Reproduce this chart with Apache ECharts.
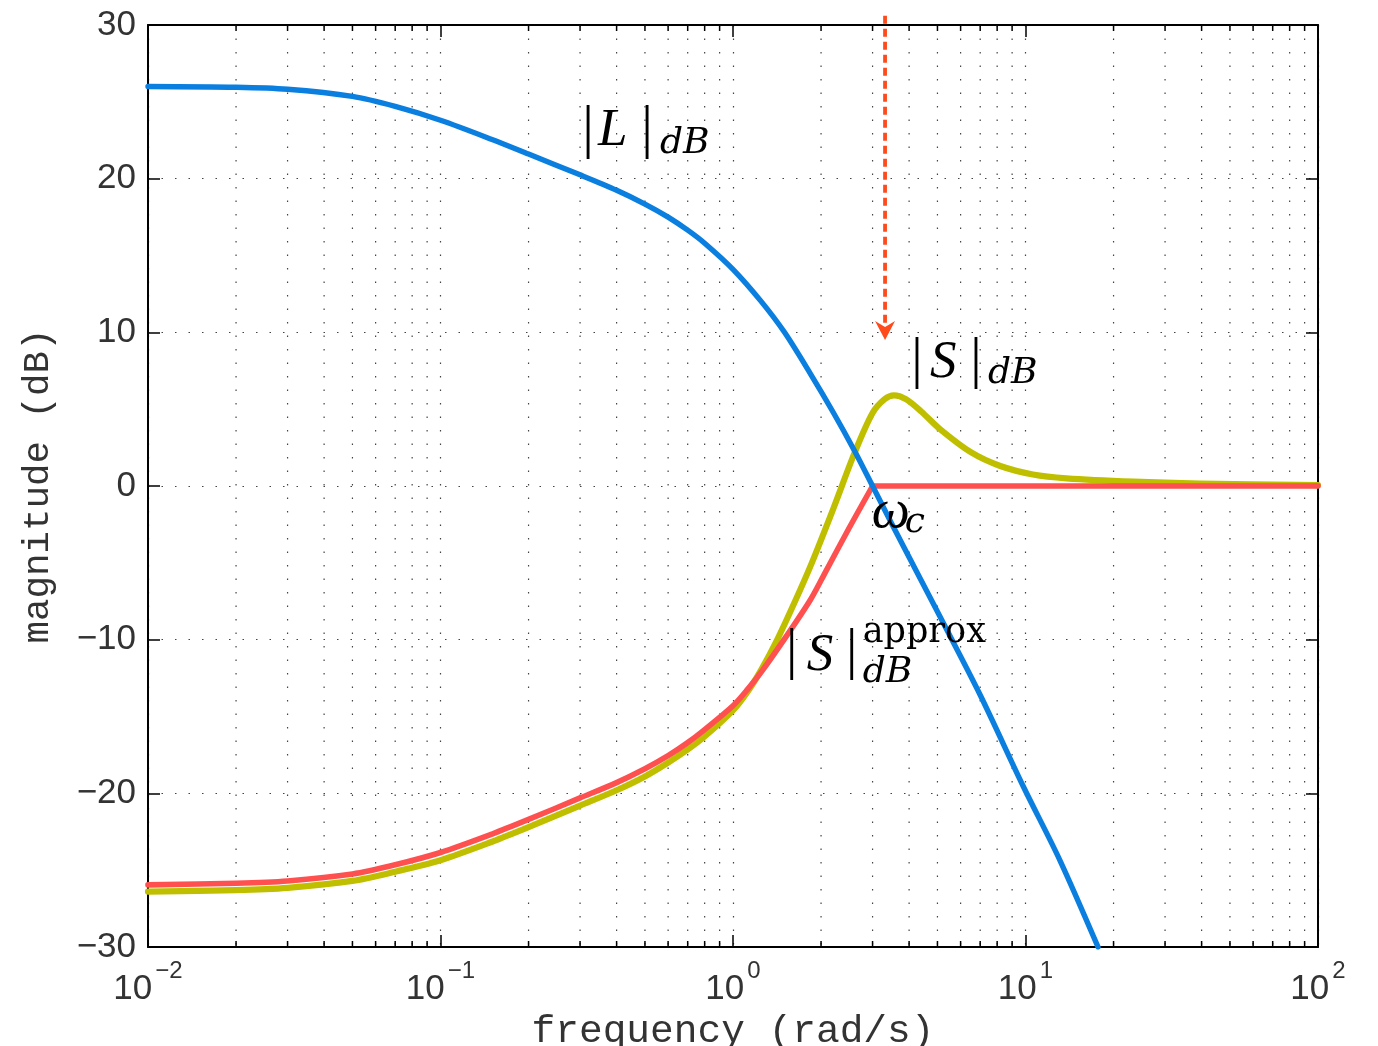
<!DOCTYPE html>
<html><head><meta charset="utf-8">
<script src="https://cdn.jsdelivr.net/npm/echarts@6/dist/echarts.min.js"></script>
<style>html,body{margin:0;padding:0;background:#fff}#c{width:1378px;height:1046px}</style>
</head><body><div id="c"></div>
<script>
// ---- axis ticks ----
const xDecades = [0.01, 0.1, 1, 10, 100];
const minorMult = [2, 3, 4, 5, 6, 7, 8, 9];
const yTicks = [-30, -20, -10, 0, 10, 20, 30];

// ---- series values [frequency rad/s, magnitude dB] ----
const loopL = [[0.01,26.0],[0.02,25.95],[0.03,25.82],[0.05,25.35],[0.07,24.7],[0.1,23.8],[0.15,22.55],[0.2,21.6],[0.3,20.25],[0.4,19.25],[0.5,18.35],[0.6,17.5],[0.7,16.65],[0.8,15.8],[1.0,14.1],[1.25,12.0],[1.5,10.0],[1.84,7.3],[2.2,4.8],[2.61,2.25],[3.0,0],[3.5,-2.5],[4.25,-5.6],[5.1,-8.5],[7.0,-13.6],[9.84,-19.57],[13.1,-24.34],[17.7,-30]];
const sensS = [[0.01,-26.4],[0.02,-26.3],[0.03,-26.15],[0.05,-25.7],[0.07,-25.1],[0.1,-24.35],[0.15,-23.15],[0.2,-22.2],[0.3,-20.8],[0.4,-19.8],[0.5,-18.9],[0.6,-18.0],[0.7,-17.15],[0.8,-16.3],[1.0,-14.6],[1.125,-13.35],[1.25,-11.95],[1.4,-10.2],[1.63,-7.5],[1.86,-5.0],[2.2,-1.5],[2.61,2.2],[3.0,4.75],[3.3,5.65],[3.55,5.9],[3.9,5.65],[4.4,4.85],[5.1,3.7],[6.5,2.2],[8.2,1.3],[10.6,0.75],[13.8,0.5],[23.4,0.28],[39.5,0.16],[100,0.06]];
const sensApproxLow = [[0.01,-25.96],[0.02,-25.85],[0.03,-25.7],[0.05,-25.25],[0.07,-24.65],[0.1,-23.85],[0.15,-22.65],[0.2,-21.7],[0.3,-20.3],[0.4,-19.3],[0.5,-18.4],[0.6,-17.55],[0.7,-16.7],[0.8,-15.85],[1.0,-14.3],[1.125,-13.2],[1.25,-12.1],[1.5,-9.95],[1.84,-7.4],[2.07,-5.6],[2.5,-2.7],[3.0,0]];
const sensApproxHigh = [[3.0,0],[100,0]];

// ---- annotation anchors (data coords) ----
const arrowOmega = 3.31, arrowFromDB = 30.6, arrowToDB = 9.5;
const anchorL = [0.3455, 22.19];
const anchorS = [4.715, 7.11];
const anchorSa = [1.786, -11.97];
const anchorWc = [2.98, -2.67];

const minorX = [];
for (let d = 0; d < xDecades.length - 1; d++) for (const m of minorMult) minorX.push([xDecades[d] * m, 0]);

const chart = echarts.init(document.getElementById('c'), null, {renderer: 'canvas'});
const tickFont = 'Liberation Sans';
const tickColor = '#333';
const axisCommon = {
  axisLine: {show: true, onZero: false, lineStyle: {color: '#000', width: 2}},
  axisTick: {show: true, inside: true, length: 12, lineStyle: {color: '#000', width: 1.5}}
};
function expLabel(v) {
  const e = Math.round(Math.log10(v));
  return '{b|10}{s|' + (e < 0 ? '\u2212' + (-e) : String(e)) + '}';
}
const option = {
  animation: false,
  backgroundColor: '#fff',
  grid: {left: 148, right: 60, top: 25, bottom: 99, containLabel: false, outerBoundsMode: 'none'},
  xAxis: [
    Object.assign({type: 'log', logBase: 10, min: xDecades[0], max: xDecades[xDecades.length-1], splitNumber: 4, position: 'bottom',
      name: 'frequency (rad/s)', nameLocation: 'middle', nameGap: 58,
      nameTextStyle: {fontFamily: 'Liberation Mono', fontSize: 39.5, color: '#333'},
      axisLabel: {show: true, margin: 12, formatter: expLabel, showMinLabel: true, showMaxLabel: true, hideOverlap: false,
        rich: {b: {fontFamily: tickFont, fontSize: 35, lineHeight: 60, color: tickColor},
               s: {fontFamily: tickFont, fontSize: 24, lineHeight: 26, verticalAlign: 'top', color: tickColor, padding: [0,0,0,3]}}},
      splitLine: {show: true, lineStyle: {color: '#444', width: 1.2, type: [1.5, 12]}}}, axisCommon),
    Object.assign({type: 'log', logBase: 10, min: xDecades[0], max: xDecades[xDecades.length-1], splitNumber: 4, position: 'top',
      axisLabel: {show: false}, splitLine: {show: false}}, axisCommon)
  ],
  yAxis: [
    Object.assign({type: 'value', min: yTicks[0], max: yTicks[yTicks.length-1], interval: 10, position: 'left',
      name: 'magnitude (dB)', nameLocation: 'middle', nameGap: 91,
      nameTextStyle: {fontFamily: 'Liberation Mono', fontSize: 37.5, color: '#333'},
      axisLabel: {show: true, margin: 12, fontFamily: tickFont, fontSize: 35, color: tickColor,
        formatter: v => (v < 0 ? '\u2212' + (-v) : String(v)), showMinLabel: true, showMaxLabel: true},
      splitLine: {show: true, lineStyle: {color: '#444', width: 1.2, type: [1.5, 12]}}}, axisCommon),
    Object.assign({type: 'value', min: yTicks[0], max: yTicks[yTicks.length-1], interval: 10, position: 'right',
      axisLabel: {show: false}, splitLine: {show: false}}, axisCommon)
  ],
  series: [
    {type: 'custom', coordinateSystem: 'cartesian2d', silent: true, z: 1, clip: false, data: minorX,
      renderItem: function (params, api) {
        const v = api.value(0);
        const t = api.coord([v, yTicks[yTicks.length-1]]);
        const b = api.coord([v, yTicks[0]]);
        return {type: 'group', children: [
          {type: 'line', shape: {x1: t[0], y1: t[1], x2: b[0], y2: b[1]}, style: {stroke: '#444', lineWidth: 1.2, lineDash: [1.5, 12]}},
          {type: 'line', shape: {x1: b[0], y1: b[1], x2: b[0], y2: b[1] - 6}, style: {stroke: '#000', lineWidth: 1.5}},
          {type: 'line', shape: {x1: t[0], y1: t[1], x2: t[0], y2: t[1] + 6}, style: {stroke: '#000', lineWidth: 1.5}}
        ]};
      }},
    {name: 'S', type: 'line', data: sensS, smooth: 0.3, showSymbol: false, z: 3,
      lineStyle: {color: '#bfbf00', width: 6.2, cap: 'round', join: 'round'}},
    {name: 'Sapprox', type: 'line', data: sensApproxLow, smooth: 0.3, showSymbol: false, z: 4,
      lineStyle: {color: '#ff5050', width: 5.6, cap: 'round', join: 'round'}},
    {name: 'Sapprox2', type: 'line', data: sensApproxHigh, smooth: false, showSymbol: false, z: 4,
      lineStyle: {color: '#ff5050', width: 5.6, cap: 'round'}},
    {name: 'L', type: 'line', data: loopL, smooth: 0.3, showSymbol: false, z: 5,
      lineStyle: {color: '#0a7fe0', width: 5.4, cap: 'round', join: 'round'}}
  ]
};
chart.setOption(option);

// ---- annotations ----
const cv = document.createElement('canvas').getContext('2d');
function midOff(font) {
  cv.font = font; cv.textBaseline = 'alphabetic';
  const a = cv.measureText('H').actualBoundingBoxAscent;
  cv.textBaseline = 'middle';
  const b = cv.measureText('H').actualBoundingBoxAscent;
  return a - b;
}
function textAt(x, base, str, font) {
  return {type: 'text', z: 100, x: x, y: base - midOff(font),
    style: {text: str, font: font, fill: '#000', align: 'left', verticalAlign: 'middle'}};
}
function barAt(cx, top, bottom, family) {
  cv.font = '100px "' + family + '"'; cv.textBaseline = 'alphabetic';
  const m = cv.measureText('|');
  const h = m.actualBoundingBoxAscent + m.actualBoundingBoxDescent;
  const f = (bottom - top) / h * 100;
  const base = bottom - m.actualBoundingBoxDescent * f / 100;
  const w = m.width * f / 100;
  return textAt(cx - w / 2, base, '|', f.toFixed(1) + 'px "' + family + '"');
}
const P = pt => chart.convertToPixel({xAxisIndex: 0, yAxisIndex: 0}, pt);
const big = 'italic 53px "Liberation Serif"';
const sub = 'italic 36px "DejaVu Serif"';
const barFam = 'Liberation Serif';
const g = [];
// |L|_dB
(function () {
  const [x, y] = P(anchorL);
  g.push(barAt(x - 10, y - 40, y + 13, barFam));
  g.push(textAt(x, y, 'L', big));
  g.push(barAt(x + 49, y - 40, y + 13, barFam));
  g.push(textAt(x + 62, y + 8, 'dB', sub));
})();
// |S|_dB
(function () {
  const [x, y] = P(anchorS);
  g.push(barAt(x - 13, y - 40, y + 12, barFam));
  g.push(textAt(x, y, 'S', big));
  g.push(barAt(x + 46, y - 40, y + 12, barFam));
  g.push(textAt(x + 58, y + 6.6, 'dB', sub));
})();
// |S|^approx_dB
(function () {
  const [x, y] = P(anchorSa);
  g.push(barAt(x - 15, y - 42, y + 10, barFam));
  g.push(textAt(x, y, 'S', big));
  g.push(barAt(x + 45, y - 42, y + 10, barFam));
  g.push(textAt(x + 56, y - 28.3, 'approx', '35px "DejaVu Serif"'));
  g.push(textAt(x + 56, y + 11.7, 'dB', sub));
})();
// omega_c
(function () {
  const [x, y] = P(anchorWc);
  g.push(textAt(x, y, '\u03c9', 'italic 54px "Liberation Serif"'));
  g.push(textAt(x + 33, y + 4.7, 'c', sub));
})();
// dashed arrow
(function () {
  const a = P([arrowOmega, arrowFromDB]);
  const b = P([arrowOmega, arrowToDB]);
  g.push({type: 'line', z: 90, shape: {x1: a[0], y1: a[1], x2: b[0], y2: b[1] - 12},
    style: {stroke: '#ff4a1c', lineWidth: 3.8, lineDash: [8, 5]}});
  g.push({type: 'polygon', z: 91, shape: {points: [[b[0], b[1]], [b[0] - 10, b[1] - 19], [b[0], b[1] - 13], [b[0] + 10, b[1] - 19]]},
    style: {fill: '#ff4a1c'}});
})();
chart.setOption({graphic: g});
</script>
</body></html>
